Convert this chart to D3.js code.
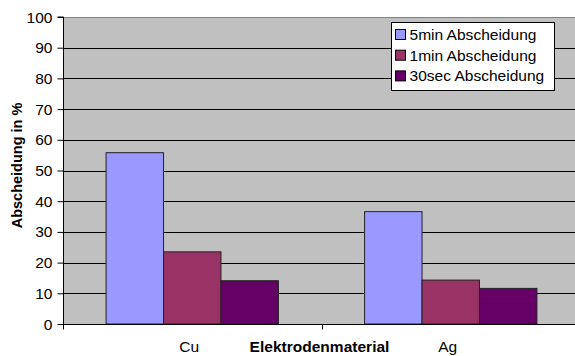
<!DOCTYPE html>
<html>
<head>
<meta charset="utf-8">
<script src="https://cdn.jsdelivr.net/npm/d3@7"></script>
<style>
  body { margin: 0; background: #fff; }
  text { font-family: "Liberation Sans", Arial, sans-serif; }
</style>
</head>
<body>
<div id="chart"></div>
<script>
// data
const categories = ["Cu", "Ag"];
const seriesNames = ["5min Abscheidung", "1min Abscheidung", "30sec Abscheidung"];
const values5min = [55.8, 36.6];
const values1min = [23.5, 14.3];
const values30sec = [14.1, 11.6];
const yTicks = [0, 10, 20, 30, 40, 50, 60, 70, 80, 90, 100];
const seriesColors = ["#9999FF", "#993366", "#660066"];

const width = 575;
const height = 356;
const margins = { top: 17, bottom: 32, left: 63, right: -5 };
const fontSize = 14;
const stretchX = 1.11; // the text in the picture looks a bit wide

const seriesValues = [values5min, values1min, values30sec];
const rows = [];
categories.forEach((c, ci) => {
  seriesNames.forEach((s, si) => {
    rows.push({ cat: c, series: s, value: seriesValues[si][ci], color: seriesColors[si] });
  });
});

// place a text at x,y and widen it
function placeText(sel, x, y) {
  sel.attr("x", null).attr("y", null)
    .attr("transform", (d, i) => {
      const xx = typeof x === "function" ? x(d, i) : x;
      const yy = typeof y === "function" ? y(d, i) : y;
      return `translate(${xx},${yy}) scale(${stretchX},1)`;
    });
}

const svg = d3.select("#chart")
  .append("svg")
  .attr("width", width)
  .attr("height", height);

// scales
const xScale = d3.scaleBand()
  .domain(categories)
  .range([margins.left, width - margins.right]);

const xInner = d3.scaleBand()
  .domain(seriesNames)
  .range([0, xScale.bandwidth()])
  .paddingOuter(0.75);

const yScale = d3.scaleLinear()
  .domain([0, 100])
  .range([height - margins.bottom, margins.top]);

// plot background
svg.append("rect")
  .attr("x", margins.left)
  .attr("y", margins.top)
  .attr("width", width - margins.right - margins.left)
  .attr("height", yScale(0) - margins.top)
  .attr("fill", "#C0C0C0");

// gridlines
svg.selectAll("line.grid")
  .data(yTicks.filter(d => d > 0 && d < 100))
  .join("line")
  .attr("class", "grid")
  .attr("x1", margins.left)
  .attr("x2", width)
  .attr("y1", d => Math.round(yScale(d)) + 0.5)
  .attr("y2", d => Math.round(yScale(d)) + 0.5)
  .attr("stroke", "#000")
  .attr("stroke-width", 1);

// top border of the plot area
svg.append("line")
  .attr("x1", margins.left)
  .attr("x2", width)
  .attr("y1", Math.round(yScale(100)) + 0.5)
  .attr("y2", Math.round(yScale(100)) + 0.5)
  .attr("stroke", "#808080");

// bars
svg.selectAll("rect.bar")
  .data(rows)
  .join("rect")
  .attr("class", "bar")
  .attr("x", d => xScale(d.cat) + xInner(d.series))
  .attr("y", d => yScale(d.value))
  .attr("width", xInner.bandwidth())
  .attr("height", d => yScale(0) - yScale(d.value))
  .attr("fill", d => d.color)
  .attr("stroke", "#222")
  .attr("stroke-width", 1);

// y axis
const yAxis = svg.append("g")
  .attr("transform", `translate(${margins.left + 0.5},0)`)
  .call(d3.axisLeft(yScale).tickValues(yTicks).tickSize(6).tickPadding(4));
yAxis.selectAll("text")
  .attr("font-size", fontSize)
  .attr("fill", "#000")
  .attr("dy", null)
  .call(placeText, -11, 5);
yAxis.selectAll("line, path").attr("stroke", "#000");
yAxis.select(".domain").attr("d", `M-6,${yScale(100)}H0V${yScale(0)}`);

// x axis line and ticks at category boundaries
const y0 = Math.round(yScale(0)) + 0.5;
svg.append("line")
  .attr("x1", margins.left)
  .attr("x2", width)
  .attr("y1", y0)
  .attr("y2", y0)
  .attr("stroke", "#000");

svg.selectAll("line.xtick")
  .data(categories)
  .join("line")
  .attr("class", "xtick")
  .attr("x1", d => Math.round(xScale(d)) + 0.5)
  .attr("x2", d => Math.round(xScale(d)) + 0.5)
  .attr("y1", y0)
  .attr("y2", y0 + 5)
  .attr("stroke", "#000");

// category labels
svg.selectAll("text.cat")
  .data(categories)
  .join("text")
  .attr("class", "cat")
  .attr("text-anchor", "middle")
  .attr("font-size", fontSize)
  .text(d => d)
  .call(placeText, d => xScale(d) + xScale.bandwidth() / 2 - 3, 352);

// axis titles
svg.append("text")
  .attr("text-anchor", "middle")
  .attr("font-size", fontSize)
  .attr("font-weight", "bold")
  .text("Elektrodenmaterial")
  .call(placeText, xScale("Ag") - 2, 352);

svg.append("text")
  .attr("transform", `translate(22,${(yScale(0) + yScale(100)) / 2 - 5}) rotate(-90)`)
  .attr("text-anchor", "middle")
  .attr("font-size", 14.5)
  .attr("font-weight", "bold")
  .text("Abscheidung in %");

// legend
const legend = svg.append("g").attr("transform", "translate(391.5,22.5)");
legend.append("rect")
  .attr("width", 163)
  .attr("height", 68)
  .attr("fill", "#fff")
  .attr("stroke", "#000");

const items = legend.selectAll("g.item")
  .data(seriesNames)
  .join("g")
  .attr("class", "item")
  .attr("transform", (d, i) => `translate(4,${12 + i * 20.7})`);

items.append("rect")
  .attr("x", 0)
  .attr("y", -5)
  .attr("width", 10)
  .attr("height", 10)
  .attr("fill", (d, i) => seriesColors[i])
  .attr("stroke", "#000");

items.append("text")
  .attr("font-size", fontSize)
  .text(d => d)
  .call(placeText, 14, 5.5);
</script>
</body>
</html>
